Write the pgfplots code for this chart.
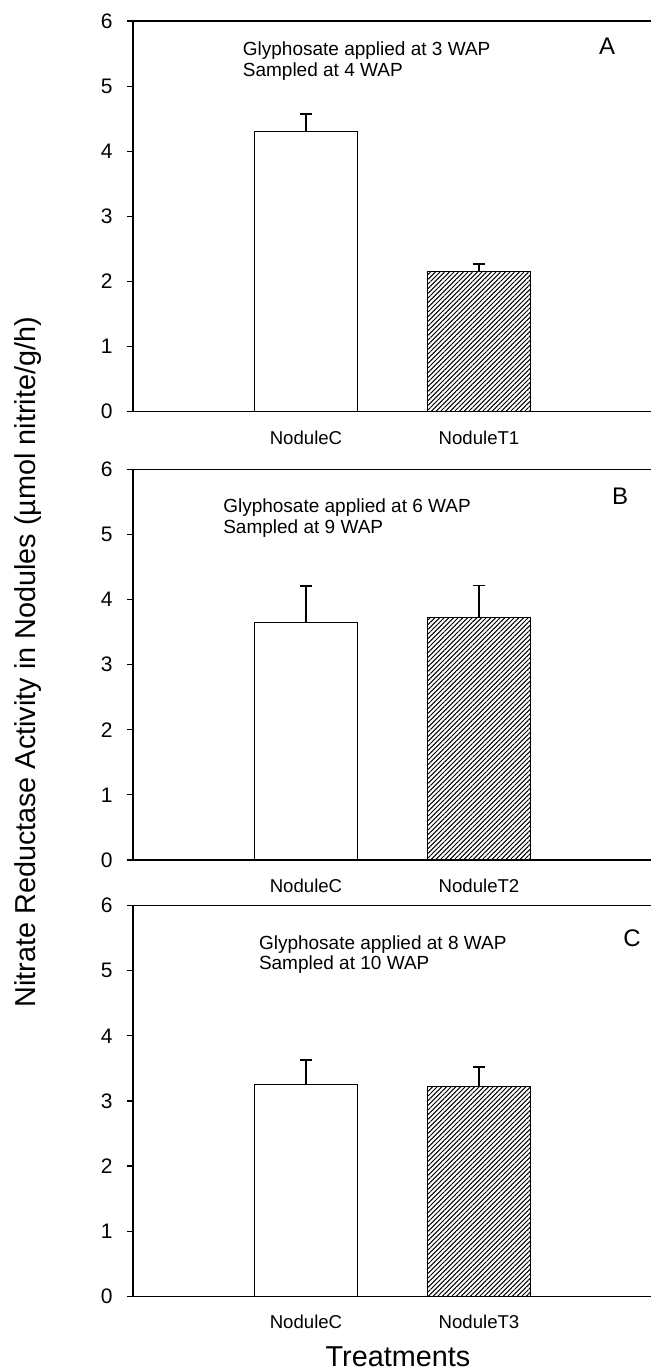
\documentclass[border=0pt]{standalone}
\usepackage{pgfplots}
\pgfplotsset{compat=1.18}
\usepackage{fontspec}
\setmainfont{Liberation Sans}
\usetikzlibrary{patterns.meta}

\pgfplotsset{
  panel/.style={
    scale only axis,
    width=259.5pt, height=195.35pt,
    xmin=0, xmax=3, ymin=0, ymax=6,
    axis x line*=box, axis y line*=left,
    axis line style={black, line width=0.6pt},
    ytick={0,1,2,3,4,5,6},
    xtick={1,2},
    tick align=outside,
    ytick pos=left,
    major tick length=3pt,
    xtick style={draw=none},
    ytick style={black, line width=0.6pt},
    /pgf/number format/assume math mode=true,
    yticklabel style={font=\fontsize{10.5}{12}\selectfont, anchor=east, inner sep=0pt, xshift=-7pt},
    xticklabel style={font=\fontsize{9.3}{11}\selectfont, anchor=base, inner sep=0pt, yshift=-13.2pt},
    ybar, bar width=0.6, bar shift=0pt,
    clip=false,
  },
  ctrl/.style={draw=black, line width=0.5pt, fill=white,
    error bars/.cd, y dir=plus, y explicit,
    error bar style={black, line width=0.65pt},
    error mark options={rotate=90, mark size=3pt, black, line width=0.65pt}},
  trt/.style={draw=black, line width=0.5pt,
    pattern={Lines[angle=45, distance=1.65pt, line width=0.5pt]}, pattern color=black,
    error bars/.cd, y dir=plus, y explicit,
    error bar style={black, line width=0.65pt},
    error mark options={rotate=90, mark size=3pt, black, line width=0.65pt}},
}

\begin{document}
\begin{tikzpicture}
\path[use as bounding box] (0,0) rectangle (325pt,685pt);

% Panel A
\begin{axis}[panel, at={(66.5pt,479.15pt)}, anchor=south west,
  xticklabels={NoduleC,NoduleT1}]
\addplot[ctrl] coordinates {(1,4.30) +- (0,0.27)};
\addplot[trt] coordinates {(2,2.15) +- (0,0.12)};
\end{axis}

% Panel B
\begin{axis}[panel, at={(66.5pt,255pt)}, anchor=south west,
  xticklabels={NoduleC,NoduleT2}]
\addplot[ctrl] coordinates {(1,3.65) +- (0,0.56)};
\addplot[trt] coordinates {(2,3.73) +- (0,0.49)};
\end{axis}

% Panel C
\begin{axis}[panel, at={(66.5pt,36.85pt)}, anchor=south west,
  xticklabels={NoduleC,NoduleT3}]
\addplot[ctrl] coordinates {(1,3.26) +- (0,0.37)};
\addplot[trt] coordinates {(2,3.22) +- (0,0.30)};
\end{axis}

\begin{scope}[every node/.style={inner sep=0pt, font=\fontsize{9.5}{11}\selectfont}]
\node[anchor=base west] at (121.25pt,657pt) {Glyphosate applied at 3 WAP};
\node[anchor=base west] at (121.25pt,646.7pt) {Sampled at 4 WAP};
\node[anchor=base west] at (111.45pt,428.65pt) {Glyphosate applied at 6 WAP};
\node[anchor=base west] at (111.45pt,418.35pt) {Sampled at 9 WAP};
\node[anchor=base west] at (129.3pt,210.35pt) {Glyphosate applied at 8 WAP};
\node[anchor=base west] at (129.3pt,200pt) {Sampled at 10 WAP};
\end{scope}
\begin{scope}[every node/.style={inner sep=0pt, font=\fontsize{12}{14}\selectfont, anchor=base}]
\node at (303.5pt,657.5pt) {A};
\node at (310pt,432.5pt) {B};
\node at (316pt,211.65pt) {C};
\end{scope}
\node[inner sep=0pt, rotate=90, anchor=base, font=\fontsize{14.4}{17}\selectfont] at (17.5pt,353.85pt) {Nitrate Reductase Activity in Nodules (µmol nitrite/g/h)};
\node[inner sep=0pt, anchor=base, font=\fontsize{14.4}{17}\selectfont] at (199pt,1.65pt) {Treatments};
\end{tikzpicture}
\end{document}
